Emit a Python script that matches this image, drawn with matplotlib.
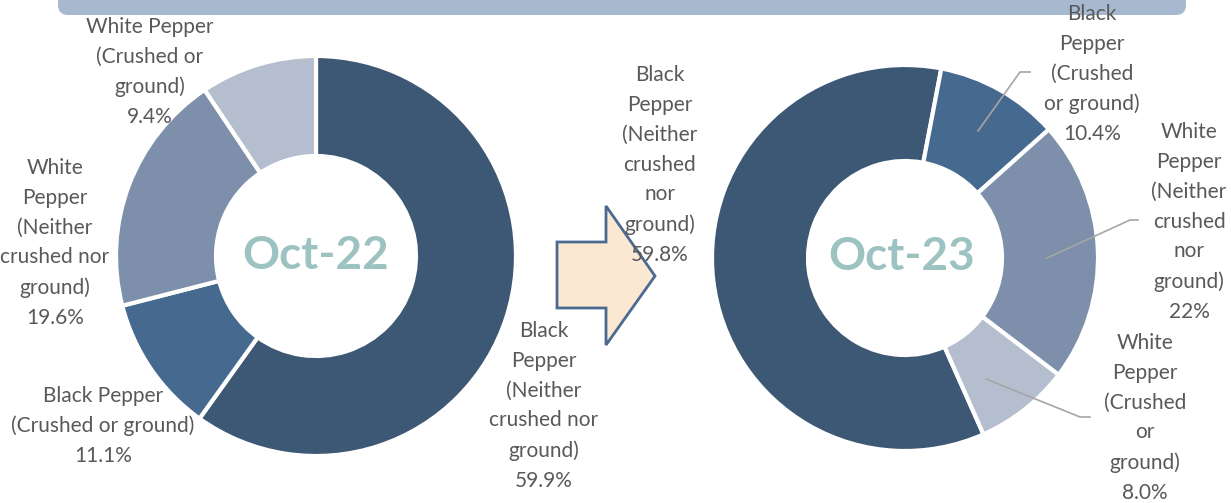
import matplotlib.pyplot as plt
from matplotlib.patches import FancyBboxPatch, Polygon

plt.rcParams['font.family'] = ['Lato', 'DejaVu Sans']

# data
categories = ['Black Pepper (Neither crushed nor ground)', 'Black Pepper (Crushed or ground)',
              'White Pepper (Neither crushed nor ground)', 'White Pepper (Crushed or ground)']
oct22 = [59.9, 11.1, 19.6, 9.4]
oct23 = [59.8, 10.4, 22.0, 8.0]
colors = ['#3d5875', '#46698f', '#7d8fab', '#b4becf']

W, H = 1231, 503
fig = plt.figure(figsize=(W / 100, H / 100), dpi=100)
ax = fig.add_axes([0, 0, 1, 1])

def Y(y):
    return H - y

ax.pie(oct22, colors=colors, startangle=90, counterclock=False,
       center=(316, Y(256)), radius=200,
       wedgeprops=dict(width=100, edgecolor='white', linewidth=3), frame=True)
ax.pie(oct23, colors=colors, startangle=294, counterclock=False,
       center=(905, Y(258)), radius=193,
       wedgeprops=dict(width=96, edgecolor='white', linewidth=3), frame=True)

ax.set_xlim(0, W)
ax.set_ylim(0, H)
ax.set_aspect('auto')
ax.axis('off')

# banner (title is cut off at the top edge, as in the original)
ax.add_patch(FancyBboxPatch((58, Y(15)), 1128, 40, boxstyle='round,pad=0,rounding_size=10',
                            fc='#a7b9cf', ec='none', clip_on=False))
ax.text(621, Y(0) + 4, 'Share of Pepper Exports by Type', ha='center', va='baseline',
        fontsize=16, fontweight='bold', color='black', clip_on=False)

# centre labels
ax.text(316, Y(256), 'Oct-22', ha='center', va='center', fontsize=33,
        fontweight='bold', color='#9cc3c2')
ax.text(902, Y(257), 'Oct-23', ha='center', va='center', fontsize=33,
        fontweight='bold', color='#9cc3c2')

# arrow
arrow = [(557, 242), (606, 242), (606, 206), (655, 276), (606, 345), (606, 308), (557, 308)]
ax.add_patch(Polygon([(x, Y(y)) for x, y in arrow], closed=True, fc='#fbe8d2',
                     ec='#4a6a92', lw=2))

lab = dict(ha='center', va='center', fontsize=15, color='#595959', linespacing=1.62)
p22 = ['%.1f%%' % v for v in oct22]
p23 = ['%.1f%%' % oct23[0], '%.1f%%' % oct23[1], '%g%%' % oct23[2], '%.1f%%' % oct23[3]]

ax.text(544, Y(406), 'Black\nPepper\n(Neither\ncrushed nor\nground)\n' + p22[0], **lab)
ax.text(103, Y(426), 'Black Pepper\n(Crushed or ground)\n' + p22[1], **lab)
ax.text(55, Y(243), 'White\nPepper\n(Neither\ncrushed nor\nground)\n' + p22[2], **lab)
ax.text(150, Y(72), 'White Pepper\n(Crushed or\nground)\n' + p22[3], **lab)

ax.text(660, Y(165), 'Black\nPepper\n(Neither\ncrushed\nnor\nground)\n' + p23[0], **lab)
ax.text(1092, Y(74), 'Black\nPepper\n(Crushed\nor ground)\n' + p23[1], **lab)
ax.text(1189, Y(222), 'White\nPepper\n(Neither\ncrushed\nnor\nground)\n' + p23[2], **lab)
ax.text(1145, Y(418), 'White\nPepper\n(Crushed\nor\nground)\n' + p23[3], **lab)

# leader lines
lc = dict(color='#a6a6a6', lw=1.2)
ax.plot([978, 1020, 1030], [Y(131), Y(72), Y(72)], **lc)
ax.plot([1047, 1130, 1138], [Y(258), Y(220), Y(220)], **lc)
ax.plot([986, 1080, 1090], [Y(379), Y(417), Y(417)], **lc)

fig.savefig('out.png', dpi=100)
